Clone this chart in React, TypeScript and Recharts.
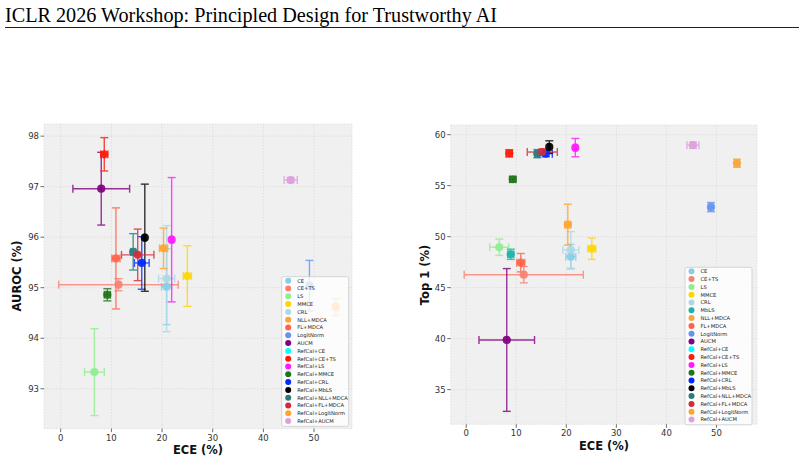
import React from 'react';
import { ScatterChart, Scatter, XAxis, YAxis, CartesianGrid, ErrorBar } from 'recharts';

// Methods in plotting / legend order
const methods = [
  'CE', 'CE+TS', 'LS', 'MMCE', 'CRL', 'MbLS', 'NLL+MDCA', 'FL+MDCA', 'LogitNorm', 'AUCM',
  'RefCal+CE', 'RefCal+CE+TS', 'RefCal+LS', 'RefCal+MMCE', 'RefCal+CRL', 'RefCal+MbLS',
  'RefCal+NLL+MDCA', 'RefCal+FL+MDCA', 'RefCal+LogitNorm', 'RefCal+AUCM',
];

// AUROC panel: ECE mean / std, AUROC mean / std (null = not reported)
const aurocEce = [20.9, 11.4, 6.65, 25.0, 20.9, null, 54.3, 10.9, 49.1, 8.0, null, 8.6, 21.9, 9.2, 16.0, 16.6, 14.3, 15.2, 20.3, 45.4];
const aurocEceStd = [1.0, 11.8, 1.95, 0.8, 1.6, null, 0.5, 0.8, 0.4, 5.6, null, 0.7, 0.3, 0.6, 1.45, 0.2, 0.5, 3.2, 0.8, 1.3];
const aurocMean = [95.02, 95.06, 93.33, 95.23, 95.18, null, 94.62, 95.58, 95.04, 96.96, null, 97.64, 95.95, 94.86, 95.49, 95.99, 95.71, 95.65, 95.78, 97.13];
const aurocStd = [0.75, 0.12, 0.86, 0.6, 1.05, null, 0.17, 1.0, 0.5, 0.72, null, 0.33, 1.23, 0.12, 0.52, 1.06, 0.36, 0.51, 0.4, 0.05];

// Top-1 panel: ECE mean / std, Top-1 mean / std
const top1Ece = [20.9, 11.5, 6.6, 25.1, 20.9, 8.9, 54.1, 10.9, 48.9, 8.1, null, 8.6, 21.8, 9.3, 15.9, 16.6, 14.2, 15.2, 20.3, 45.3];
const top1EceStd = [1.0, 11.9, 1.9, 0.8, 1.6, 0.6, 0.5, 0.8, 0.5, 5.55, null, 0.6, 0.3, 0.6, 1.3, 0.2, 0.5, 3.0, 0.6, 1.2];
const top1Mean = [48.04, 46.27, 48.96, 48.82, 48.7, 48.27, 57.2, 47.45, 52.9, 39.87, null, 58.17, 58.73, 55.63, 58.14, 58.8, 58.14, 58.3, 51.18, 58.97];
const top1Std = [1.2, 0.8, 0.8, 1.05, 1.8, 0.5, 0.4, 0.9, 0.45, 7.0, null, 0.35, 0.9, 0.25, 0.3, 0.6, 0.4, 0.3, 2.0, 0.3];

// Methods listed in each panel's legend
const aurocLegend = methods.filter((m) => m !== 'MbLS');
const top1Legend = methods;

const eceTicks = [0, 10, 20, 30, 40, 50];
const aurocTicks = [93, 94, 95, 96, 97, 98];
const top1Ticks = [35, 40, 45, 50, 55, 60];

const COLORS: Record<string, string> = {
  'CE': '#87CEEB',
  'CE+TS': '#FA8072',
  'LS': '#90EE90',
  'MMCE': '#FFD700',
  'CRL': '#ADD8E6',
  'MbLS': '#20B2AA',
  'NLL+MDCA': '#F9A53A',
  'FL+MDCA': '#FF6347',
  'LogitNorm': '#6495ED',
  'AUCM': '#800080',
  'RefCal+CE': '#00FFFF',
  'RefCal+CE+TS': '#FF1A0A',
  'RefCal+LS': '#FF1AFF',
  'RefCal+MMCE': '#22741A',
  'RefCal+CRL': '#0028FF',
  'RefCal+MbLS': '#000000',
  'RefCal+NLL+MDCA': '#2A7D7D',
  'RefCal+FL+MDCA': '#D42A3A',
  'RefCal+LogitNorm': '#FFA52E',
  'RefCal+AUCM': '#DDA0DD',
};

const FONT = 'DejaVu Sans, sans-serif';

type Box = { w: number; h: number; left: number; top: number; right: number; bottom: number };

// Legend box drawn in page coordinates
function LegendPanel({ names, x, y }: { names: string[]; x: number; y: number }) {
  const rowH = 7.8;
  const h = names.length * rowH + 1.5;
  return (
    <g transform={`translate(${x},${y})`}>
      <rect x={0} y={0} width={67} height={h} rx={2} fill="#ffffff" fillOpacity={0.8} stroke="#cccccc" strokeWidth={0.8} />
      {names.map((n, i) => (
        <g key={n}>
          <circle cx={6.5} cy={4 + i * rowH} r={3} fill={COLORS[n]} />
          <text x={15.5} y={4 + i * rowH + 1.9} fontSize={5.2} fontFamily={FONT} fill="#222">{n}</text>
        </g>
      ))}
    </g>
  );
}

function Panel(props: {
  box: Box;
  ece: (number | null)[];
  eceStd: (number | null)[];
  val: (number | null)[];
  valStd: (number | null)[];
  xDomain: [number, number];
  yDomain: [number, number];
  yTicks: number[];
  offsetLeft: number;
}) {
  const { box } = props;
  const yAxisW = 30;
  const xAxisH = 20;
  const tickStyle = { fontSize: 8.5, fontFamily: FONT, fill: '#333' };
  return (
    <div style={{ position: 'absolute', left: props.offsetLeft, top: 0 }}>
      <ScatterChart
        width={box.w}
        height={box.h}
        margin={{ top: box.top, right: box.right, bottom: box.bottom - xAxisH, left: box.left - yAxisW }}
      >
        <CartesianGrid fill="#f0f0f0" stroke="#dadada" strokeDasharray="1.5 1.5" strokeWidth={0.8} />
        <XAxis
          type="number"
          dataKey="x"
          domain={props.xDomain}
          ticks={eceTicks}
          allowDataOverflow
          height={xAxisH}
          axisLine={false}
          tickSize={3.5}
          tickMargin={2.5}
          tickLine={{ stroke: '#444', strokeWidth: 0.8 }}
          tick={tickStyle}
        />
        <YAxis
          type="number"
          dataKey="y"
          domain={props.yDomain}
          ticks={props.yTicks}
          allowDataOverflow
          width={yAxisW}
          axisLine={false}
          tickSize={3.5}
          tickMargin={1.5}
          tickLine={{ stroke: '#444', strokeWidth: 0.8 }}
          tick={tickStyle}
        />
        {methods.map((m, i) => {
          const x = props.ece[i];
          const y = props.val[i];
          if (x === null || y === null) return null;
          const c = COLORS[m];
          return (
            <Scatter
              key={m}
              name={m}
              data={[{ x, y, ex: props.eceStd[i], ey: props.valStd[i] }]}
              fill={c}
              isAnimationActive={false}
              shape={(p: any) => <circle cx={p.cx} cy={p.cy} r={4.1} fill={c} fillOpacity={0.92} />}
            >
              <ErrorBar dataKey="ex" direction="x" width={4} stroke={c} strokeWidth={1.4} opacity={0.8} />
              <ErrorBar dataKey="ey" direction="y" width={4} stroke={c} strokeWidth={1.4} opacity={0.8} />
            </Scatter>
          );
        })}
      </ScatterChart>
    </div>
  );
}

export default function App() {
  return (
    <div style={{ position: 'absolute', left: 0, top: 0, width: 804, height: 463, background: '#fff', overflow: 'hidden' }}>
      <Panel
        box={{ w: 402, h: 463, left: 44, top: 124, right: 402 - 352, bottom: 463 - 428.7 }}
        ece={aurocEce}
        eceStd={aurocEceStd}
        val={aurocMean}
        valStd={aurocStd}
        xDomain={[-3.3, 57.5]}
        yDomain={[92.21, 98.24]}
        yTicks={aurocTicks}
        offsetLeft={0}
      />
      <Panel
        box={{ w: 400, h: 463, left: 450.7 - 402, top: 125, right: 400 - (757 - 402), bottom: 463 - 424.3 }}
        ece={top1Ece}
        eceStd={top1EceStd}
        val={top1Mean}
        valStd={top1Std}
        xDomain={[-3.1, 58.1]}
        yDomain={[31.6, 60.95]}
        yTicks={top1Ticks}
        offsetLeft={402}
      />
      <svg width={804} height={463} style={{ position: 'absolute', left: 0, top: 0, pointerEvents: 'none' }}>
        <text x={5} y={22} fontSize={20.2} fontFamily="Liberation Serif, Times New Roman, serif" fill="#000">
          ICLR 2026 Workshop: Principled Design for Trustworthy AI
        </text>
        <line x1={5} x2={799} y1={27.5} y2={27.5} stroke="#222" strokeWidth={1} />
        <LegendPanel names={aurocLegend} x={281.7} y={276.7} />
        <LegendPanel names={top1Legend} x={685} y={267.3} />
        <text x={198} y={454} textAnchor="middle" fontSize={11.5} fontWeight="bold" fontFamily={FONT} fill="#111">ECE (%)</text>
        <text x={604} y={449.6} textAnchor="middle" fontSize={11.5} fontWeight="bold" fontFamily={FONT} fill="#111">ECE (%)</text>
        <text transform="translate(21,276) rotate(-90)" textAnchor="middle" fontSize={11.5} fontWeight="bold" fontFamily={FONT} fill="#111">AUROC (%)</text>
        <text transform="translate(429,275) rotate(-90)" textAnchor="middle" fontSize={11.5} fontWeight="bold" fontFamily={FONT} fill="#111">Top 1 (%)</text>
      </svg>
    </div>
  );
}
